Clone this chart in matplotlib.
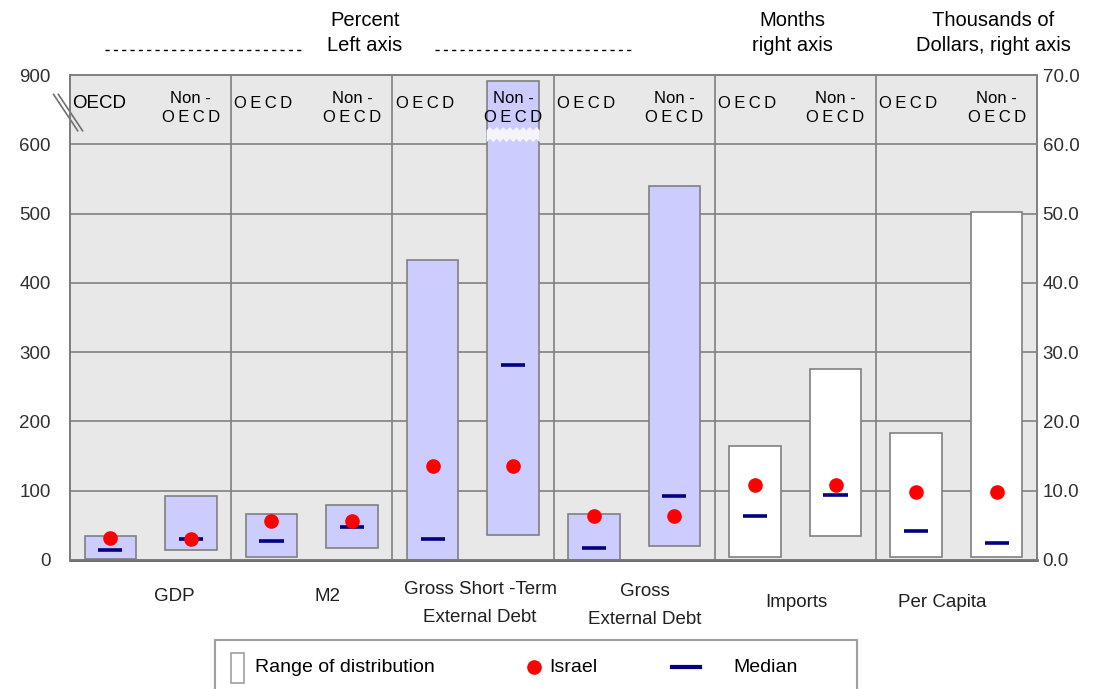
import matplotlib
matplotlib.use("Agg")
import matplotlib.pyplot as plt
from matplotlib.patches import Rectangle, Polygon
from matplotlib.lines import Line2D
import numpy as np

plt.rcParams['font.family'] = ['Liberation Sans', 'DejaVu Sans']

categories = ["GDP", "M2", "Gross Short -Term\nExternal Debt", "Gross\nExternal Debt",
              "Imports", "Per Capita"]
groups = ["OECD", "Non-OECD"]
# one value per bar: OECD / Non-OECD for each category
low = [2, 14, 5, 18, 0, 36, 0, 20, 0.5, 3.4, 0.5, 0.5]
high = [35, 92, 67, 80, 433, 873, 67, 540, 16.4, 27.5, 18.3, 50.2]
median = [15, 30, 27, 47, 30, 281, 18, 93, 6.3, 9.4, 4.2, 2.5]
israel = [32, 31, 57, 57, 135, 135, 64, 64, 10.8, 10.8, 9.8, 9.8]
side = ["left"] * 8 + ["right"] * 4

left_ticks = [0, 100, 200, 300, 400, 500, 600, 900]
right_ticks = [0, 10, 20, 30, 40, 50, 60, 70]


def to_disp(v, s):
    # left axis is broken above 600 (600-900 squeezed into one step), right axis is 0-70
    if s == "right":
        return v * 10.0
    return v if v <= 600 else 600 + (v - 600) / 3.0


bg = "#E8E8E8"
grid_c = "#808080"
lav = "#CCCCFF"

fig = plt.figure(figsize=(11, 6.89), dpi=100)
ax = fig.add_axes([70 / 1100, 1 - 560 / 689, (1037 - 70) / 1100, (560 - 75) / 689])
ax.set_facecolor(bg)
ax.set_xlim(-0.5, 11.5)
ax.set_ylim(0, 700)

for yv in range(100, 700, 100):
    ax.axhline(yv, color=grid_c, lw=1.2, zorder=1)
for xv in [1.5, 3.5, 5.5, 7.5, 9.5]:
    ax.axvline(xv, color=grid_c, lw=1.2, zorder=1)

bw = 0.64
for i in range(len(low)):
    lo = to_disp(low[i], side[i])
    hi = to_disp(high[i], side[i])
    fc = lav if side[i] == "left" else "white"
    ax.add_patch(Rectangle((i - bw / 2, lo), bw, hi - lo, facecolor=fc,
                           edgecolor=grid_c, lw=1.2, zorder=2))
    md = to_disp(median[i], side[i])
    ax.hlines(md, i - 0.15, i + 0.15, color="#000080", lw=2.6, zorder=3)
    ax.plot(i, to_disp(israel[i], side[i]), 'o', color="red", ms=9.5, zorder=4)

# zigzag break on the tallest bar
i_big = int(np.argmax(high))
xs = np.linspace(i_big - bw / 2 - 0.01, i_big + bw / 2 + 0.01, 17)
zig = np.where(np.arange(17) % 2 == 0, 0, 5)
top = np.column_stack([xs, 620 + zig])
bot = np.column_stack([xs[::-1], 603 + zig[::-1]])
ax.add_patch(Polygon(np.vstack([top, bot]), closed=True, facecolor="#F4F4FA",
                     edgecolor="none", zorder=3))

# break marks on left axis
for dx in [0, 0.005]:
    ax.plot([-0.017 + dx, 0.008 + dx], [0.96, 0.885],
            transform=ax.transAxes, color="#707070", lw=1.2, clip_on=False, zorder=6)

# header labels inside the plot
oecd_spaced = "O\u2009E\u2009C\u2009D"
for g in range(6):
    x0 = 2 * g - 0.5
    if g == 0:
        ax.text(x0 + 0.03, 659, "OECD", fontsize=13.5, ha="left", va="center", zorder=5)
    else:
        ax.text(x0 + 0.04, 659, oecd_spaced, fontsize=12, ha="left", va="center", zorder=5)
    ax.text(2 * g + 1, 652, "Non -\nO\u2009E\u2009C\u2009D", fontsize=12, ha="center",
            va="center", linespacing=1.3, zorder=5)

# category labels below
cat_x = [0.80, 2.70, 4.59, 6.63, 8.52, 10.32]
cat_y = [-53, -53, -63, -65, -62, -62]
for cx, cy, c in zip(cat_x, cat_y, categories):
    ax.text(cx, cy, c, fontsize=13.5, ha="center", va="center", linespacing=1.85,
            color="#202020")

ax.set_yticks([to_disp(v, "left") for v in left_ticks])
ax.set_yticklabels([str(v) for v in left_ticks])
ax.set_xticks([])
ax.tick_params(axis="y", length=0, labelsize=13.5, labelcolor="#303030", pad=14)

ax2 = ax.twinx()
ax2.set_ylim(0, 70)
ax2.set_yticks(right_ticks)
ax2.set_yticklabels([f"{v:.1f}" for v in right_ticks])
ax2.tick_params(axis="y", length=0, labelsize=13.5, labelcolor="#303030", pad=4)

for a in (ax, ax2):
    for s in a.spines.values():
        s.set_color(grid_c)
        s.set_linewidth(1.2)
ax.spines["bottom"].set_color("#404040")
ax.spines["bottom"].set_linewidth(1.8)
ax.spines["left"].set_color("#606060")

# top header texts
fig.text(365 / 1100, 1 - 33 / 689, "Percent\nLeft axis", fontsize=14.5, ha="center",
         va="center", linespacing=1.45)
fig.text(792 / 1100, 1 - 33 / 689, "Months\nright axis", fontsize=14.5, ha="center",
         va="center", linespacing=1.45)
fig.text(993 / 1100, 1 - 33 / 689, "Thousands of\nDollars, right axis", fontsize=14.5,
         ha="center", va="center", linespacing=1.45)
for x1, x2 in [(105, 305), (435, 635)]:
    fig.add_artist(Line2D([x1 / 1100, x2 / 1100], [1 - 50 / 689] * 2, color="black",
                          lw=1, ls=(0, (3, 3))))

# legend box
fig.add_artist(Rectangle((215 / 1100, -0.05), (857 - 215) / 1100, (689 - 640) / 689 + 0.05,
                         facecolor="white", edgecolor="#A0A0A0", lw=1.5))
ly = 1 - 667 / 689
fig.add_artist(Rectangle((231 / 1100, 1 - 683 / 689), 13 / 1100, 30 / 689,
                         facecolor="white", edgecolor="#A0A0A0", lw=1.2))
fig.text(255 / 1100, ly, "Range of distribution", fontsize=14, va="center")
fig.add_artist(Line2D([534 / 1100], [ly], marker="o", color="red", ms=9.5))
fig.text(549 / 1100, ly, "Israel", fontsize=14, va="center")
fig.add_artist(Line2D([672 / 1100, 700 / 1100], [ly] * 2, color="#000080", lw=3))
fig.text(733 / 1100, ly, "Median", fontsize=14, va="center")

fig.savefig("out.png", dpi=100)
